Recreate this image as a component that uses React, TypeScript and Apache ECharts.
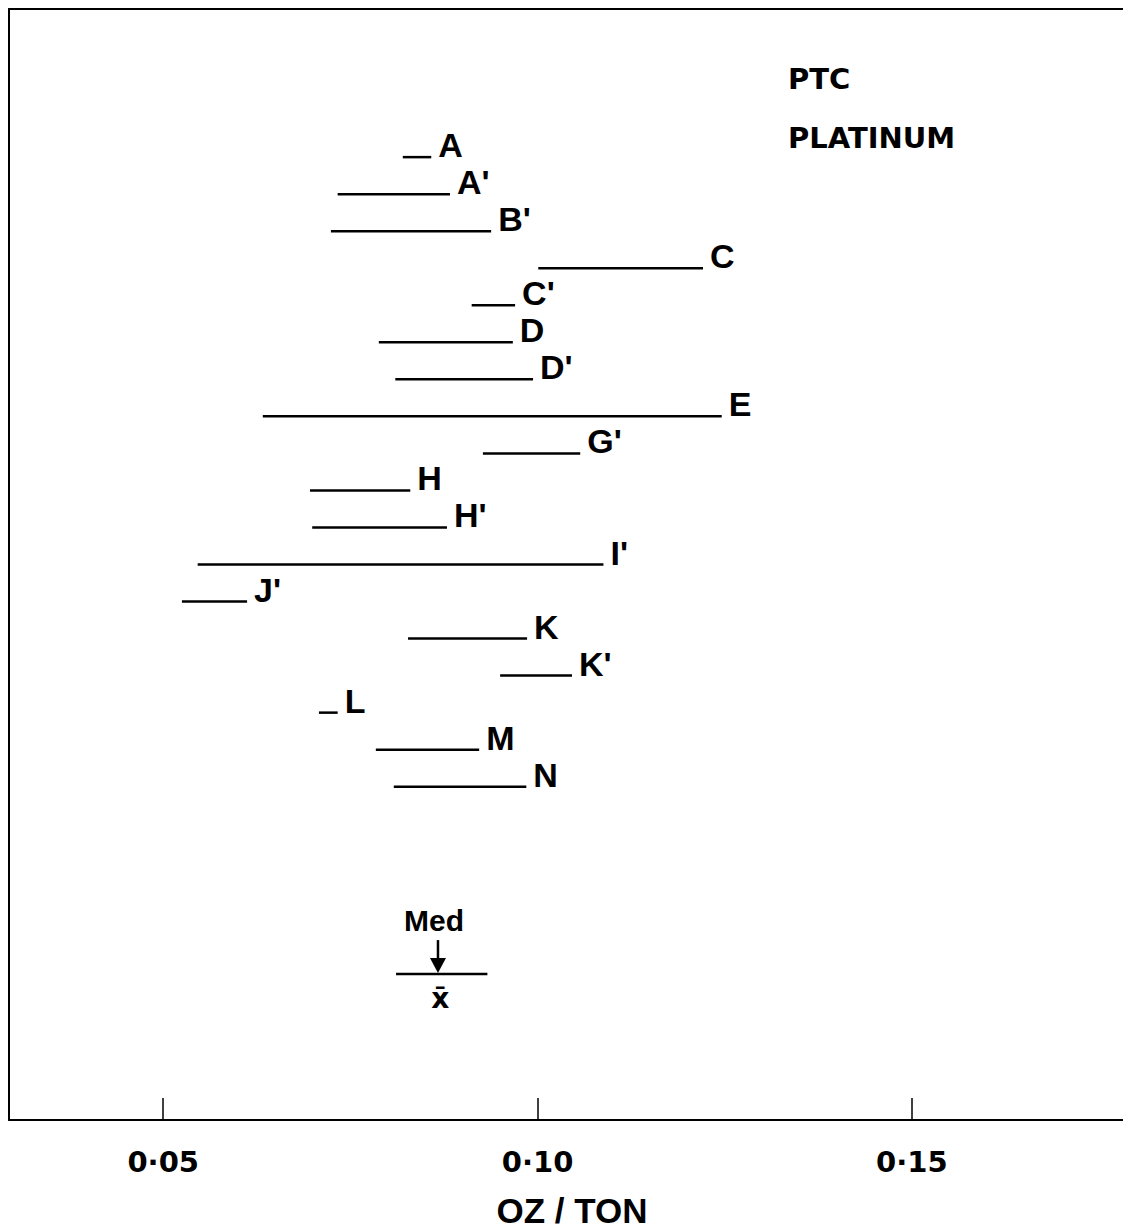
import React, { useEffect, useRef } from "react";
import * as echarts from "echarts";

// Laboratory labels, low and high of each range (oz/ton), and row position (from top)
const labs = ["A", "A'", "B'", "C", "C'", "D", "D'", "E", "G'", "H", "H'", "I'", "J'", "K", "K'", "L", "M", "N"];
const lows = [0.0820, 0.0733, 0.0724, 0.1001, 0.0912, 0.0788, 0.0810, 0.0633, 0.0927, 0.0696, 0.0699, 0.0546, 0.0525, 0.0827, 0.0950, 0.0708, 0.0784, 0.0808];
const highs = [0.0858, 0.0883, 0.0938, 0.1221, 0.0970, 0.0967, 0.0994, 0.1246, 0.1057, 0.0830, 0.0879, 0.1088, 0.0612, 0.0986, 0.1046, 0.0733, 0.0922, 0.0985];
const rows = [4, 5, 6, 7, 8, 9, 10, 11, 12, 13, 14, 15, 16, 17, 18, 19, 20, 21];

// Summary: overall range, median and mean
const summaryRange = [0.0811, 0.0933];
const summaryRow = 26.06;
const medianValue = 0.0867;
const meanValue = 0.0870;

const xTicks = [0.05, 0.1, 0.15];
const xMin = 0.0294;
const xMax = 0.1782;

const LETTER_FONT = "'Liberation Sans', Arial, sans-serif";
const WIDE_FONT = "'DejaVu Sans', sans-serif";

export default function App() {
  const ref = useRef<HTMLDivElement>(null);
  useEffect(() => {
    if (!ref.current) return;
    const chart = echarts.init(ref.current, null, { renderer: "svg" });
    const data = labs.map((l, i) => [lows[i], highs[i], rows[i]]);
    chart.setOption({
      animation: false,
      backgroundColor: "#fff",
      grid: { left: 9, right: 0, top: 9, bottom: 110, outerBoundsMode: "none", containLabel: false },
      xAxis: [
        {
          type: "value",
          min: xMin,
          max: xMax,
          position: "bottom",
          axisLine: { show: true, onZero: false, lineStyle: { color: "#000", width: 2 } },
          axisTick: {
            show: true,
            inside: true,
            length: 22,
            customValues: xTicks,
            lineStyle: { color: "#000", width: 1.5 },
          },
          axisLabel: {
            show: true,
            customValues: xTicks,
            margin: 27,
            color: "#000",
            fontFamily: WIDE_FONT,
            fontWeight: "bold",
            fontSize: 29,
            formatter: (v: number) => v.toFixed(2).replace(".", "·"),
          },
          splitLine: { show: false },
          name: "OZ / TON",
          nameLocation: "middle",
          nameGap: 73,
          nameTextStyle: {
            color: "#000",
            fontFamily: LETTER_FONT,
            fontWeight: "bold",
            fontSize: 35,
            lineHeight: 35,
            padding: [0, 0, 0, 12],
          },
        },
        {
          type: "value",
          min: xMin,
          max: xMax,
          position: "top",
          axisLine: { show: true, onZero: false, lineStyle: { color: "#000", width: 2 } },
          axisTick: { show: false },
          axisLabel: { show: false },
          splitLine: { show: false },
        },
      ],
      yAxis: {
        type: "value",
        min: 0,
        max: 30,
        inverse: true,
        axisLine: { show: true, onZero: false, lineStyle: { color: "#000", width: 2 } },
        axisTick: { show: false },
        axisLabel: { show: false },
        splitLine: { show: false },
      },
      series: [
        {
          type: "custom",
          xAxisIndex: 0,
          data,
          renderItem: (params: any, api: any) => {
            const lo = api.coord([api.value(0), api.value(2)]);
            const hi = api.coord([api.value(1), api.value(2)]);
            return {
              type: "group",
              children: [
                {
                  type: "line",
                  shape: { x1: lo[0], y1: lo[1], x2: hi[0], y2: hi[1] },
                  style: { stroke: "#000", lineWidth: 2.5 },
                },
                {
                  type: "text",
                  x: hi[0] + 7,
                  y: hi[1] - 12,
                  style: {
                    text: labs[params.dataIndex],
                    fill: "#000",
                    fontFamily: LETTER_FONT,
                    fontWeight: "bold",
                    fontSize: 34,
                    align: "left",
                    verticalAlign: "middle",
                  },
                },
              ],
            };
          },
        },
        {
          type: "custom",
          xAxisIndex: 0,
          data: [[summaryRange[0], summaryRange[1], summaryRow, medianValue, meanValue]],
          renderItem: (params: any, api: any) => {
            const lo = api.coord([api.value(0), api.value(2)]);
            const hi = api.coord([api.value(1), api.value(2)]);
            const med = api.coord([api.value(3), api.value(2)]);
            const mean = api.coord([api.value(4), api.value(2)]);
            const y = lo[1];
            return {
              type: "group",
              children: [
                {
                  type: "line",
                  shape: { x1: lo[0], y1: y, x2: hi[0], y2: y },
                  style: { stroke: "#000", lineWidth: 2.5 },
                },
                {
                  type: "line",
                  shape: { x1: med[0], y1: y - 34, x2: med[0], y2: y - 12 },
                  style: { stroke: "#000", lineWidth: 2.5 },
                },
                {
                  type: "polygon",
                  shape: { points: [[med[0] - 8, y - 16], [med[0] + 8, y - 16], [med[0], y - 1]] },
                  style: { fill: "#000" },
                },
                {
                  type: "text",
                  x: med[0] - 4,
                  y: y - 54,
                  style: {
                    text: "Med",
                    fill: "#000",
                    fontFamily: LETTER_FONT,
                    fontWeight: "bold",
                    fontSize: 30,
                    align: "center",
                    verticalAlign: "middle",
                  },
                },
                {
                  type: "text",
                  x: mean[0],
                  y: y + 24,
                  style: {
                    text: "x̄",
                    fill: "#000",
                    fontFamily: WIDE_FONT,
                    fontWeight: "bold",
                    fontSize: 28,
                    align: "center",
                    verticalAlign: "middle",
                  },
                },
              ],
            };
          },
        },
      ],
      graphic: [
        {
          type: "text",
          left: 788,
          top: 64,
          style: { text: "PTC", fill: "#000", fontFamily: WIDE_FONT, fontWeight: "bold", fontSize: 29 },
        },
        {
          type: "text",
          left: 788,
          top: 123,
          style: { text: "PLATINUM", fill: "#000", fontFamily: WIDE_FONT, fontWeight: "bold", fontSize: 29 },
        },
      ],
    });
    return () => chart.dispose();
  }, []);
  return (
    <div
      ref={ref}
      style={{ position: "absolute", left: 0, top: 0, width: 1123, height: 1230, background: "#fff" }}
    />
  );
}
